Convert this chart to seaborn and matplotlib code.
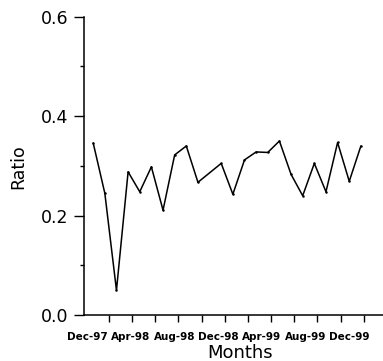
import matplotlib
matplotlib.use("Agg")
import matplotlib.pyplot as plt
import seaborn as sns
import pandas as pd

# month index (0 = first observation); one month has no observation
month_idx = [0, 1, 2, 3, 4, 5, 6, 7, 8, 9, 11, 12, 13, 14, 15, 16, 17, 18,
             19, 20, 21, 22, 23]
ratio = [0.346, 0.245, 0.050, 0.288, 0.248, 0.298, 0.211, 0.322, 0.340,
         0.267, 0.305, 0.243, 0.312, 0.328, 0.327, 0.350, 0.283, 0.240,
         0.305, 0.248, 0.347, 0.269, 0.340]
tick_labels = ["Dec-97", "Apr-98", "Aug-98", "Dec-98", "Apr-99", "Aug-99", "Dec-99"]
label_pos = [-0.5, 3.25, 7.0, 10.75, 14.5, 18.25, 22.0]
tick_marks = [1.35 + 1.99 * k for k in range(12)]
y_major = [0.0, 0.2, 0.4, 0.6]
y_minor = [0.1, 0.3, 0.5]

sns.set_style("ticks")
plt.rcParams["font.family"] = ["DejaVu Sans"]
plt.rcParams["text.color"] = "black"
plt.rcParams["axes.labelcolor"] = "black"
plt.rcParams["xtick.color"] = "black"
plt.rcParams["ytick.color"] = "black"

df = pd.DataFrame({"Months": month_idx, "Ratio": ratio})

fig = plt.figure(figsize=(3.83, 3.61), dpi=100)
ax = fig.add_axes([0.219, 0.127, 0.781, 0.827])
sns.lineplot(data=df, x="Months", y="Ratio", ax=ax, color="black",
             linewidth=1.1, marker="o", markersize=1.8, markeredgewidth=0)

ax.set_xlim(-0.8, 24.9)
ax.set_ylim(0, 0.6)
sns.despine(ax=ax)
for s in ["left", "bottom"]:
    ax.spines[s].set_linewidth(1.1)
    ax.spines[s].set_color("black")

ax.set_yticks(y_major)
ax.set_yticklabels([f"{v:.1f}" for v in y_major], fontsize=12.5)
ax.set_yticks(y_minor, minor=True)
ax.tick_params(axis="y", which="major", length=7, width=1.0, pad=4)
ax.tick_params(axis="y", which="minor", length=3, width=1.0)

ax.set_xticks(label_pos)
ax.set_xticklabels(tick_labels, fontsize=7.5, fontweight="bold")
ax.set_xticks(tick_marks, minor=True)
ax.tick_params(axis="x", which="major", length=0, pad=12)
ax.tick_params(axis="x", which="minor", length=5, width=1.0)

ax.set_xlabel("Months", fontsize=13)
ax.set_ylabel("Ratio", fontsize=12.5)
ax.xaxis.set_label_coords(0.522, -0.098)
ax.yaxis.set_label_coords(-0.19, 0.496)

fig.savefig("out.png", dpi=100)
